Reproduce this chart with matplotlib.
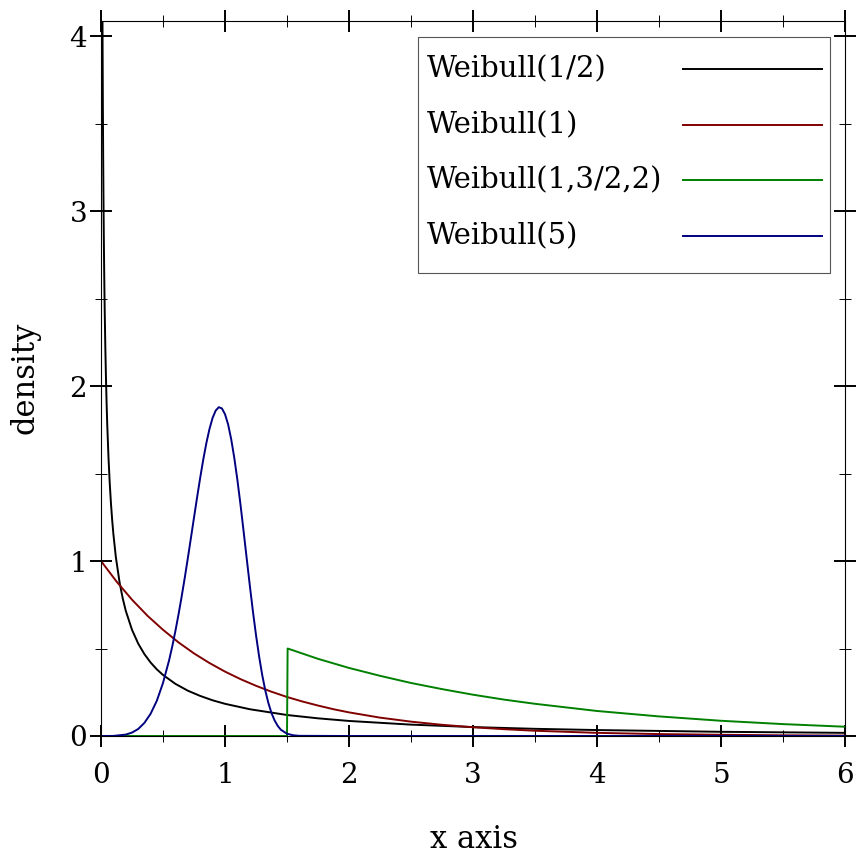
import matplotlib.pyplot as plt
from matplotlib.ticker import MultipleLocator
from matplotlib.patches import Rectangle

# Values
half_x = [0.012, 0.013, 0.015, 0.0175, 0.02, 0.0225, 0.025, 0.0275, 0.03, 0.035, 0.04, 0.045, 0.05,
          0.06, 0.07, 0.08, 0.09, 0.1, 0.12, 0.15, 0.175, 0.2, 0.25, 0.3, 0.35, 0.4, 0.45, 0.5, 0.6,
          0.7, 0.8, 0.9, 1.0, 1.2, 1.5, 1.75, 2.0, 2.5, 3.0, 3.5, 4.0, 5.0, 6.0]
half_y = [4.093, 3.912, 3.612, 3.311, 3.069, 2.869, 2.700, 2.554, 2.428, 2.217, 2.047, 1.907, 1.788,
          1.598, 1.450, 1.332, 1.235, 1.153, 1.021, 0.877, 0.787, 0.715, 0.607, 0.528, 0.468, 0.420,
          0.381, 0.349, 0.298, 0.259, 0.229, 0.204, 0.184, 0.153, 0.120, 0.101, 0.086, 0.065, 0.051,
          0.041, 0.034, 0.024, 0.018]

one_x = [0, 0.125, 0.25, 0.375, 0.5, 0.625, 0.75, 0.875, 1.0, 1.125, 1.25, 1.375, 1.5, 1.625, 1.75,
         1.875, 2.0, 2.25, 2.5, 2.75, 3.0, 3.25, 3.5, 3.75, 4.0, 4.5, 5.0, 5.5, 6.0]
one_y = [1.0, 0.883, 0.779, 0.687, 0.607, 0.535, 0.472, 0.417, 0.368, 0.325, 0.287, 0.253, 0.223,
         0.197, 0.174, 0.153, 0.135, 0.105, 0.082, 0.064, 0.050, 0.039, 0.030, 0.024, 0.018, 0.011,
         0.007, 0.004, 0.0025]

shift_x = [0, 1.5, 1.505, 1.75, 2.0, 2.25, 2.5, 2.75, 3.0, 3.25, 3.5, 4.0, 4.5, 5.0, 5.5, 6.0]
shift_y = [0, 0, 0.5, 0.441, 0.389, 0.344, 0.303, 0.268, 0.236, 0.208, 0.184, 0.143, 0.112, 0.087,
           0.068, 0.053]

five_x = [0, 0.1, 0.2, 0.25, 0.3, 0.35, 0.4, 0.45, 0.5, 0.55, 0.575, 0.6, 0.625, 0.65, 0.675, 0.7,
          0.725, 0.75, 0.775, 0.8, 0.825, 0.85, 0.875, 0.9, 0.925, 0.95, 0.975, 1.0, 1.025, 1.05,
          1.075, 1.1, 1.125, 1.15, 1.175, 1.2, 1.225, 1.25, 1.275, 1.3, 1.325, 1.35, 1.375, 1.4,
          1.425, 1.45, 1.5, 1.55, 1.6, 2.0, 6.0]
five_y = [0, 0.0005, 0.008, 0.0195, 0.040, 0.075, 0.127, 0.201, 0.303, 0.435, 0.513, 0.600, 0.694,
          0.795, 0.902, 1.015, 1.131, 1.248, 1.364, 1.476, 1.581, 1.675, 1.755, 1.818, 1.860, 1.879,
          1.872, 1.839, 1.781, 1.696, 1.589, 1.463, 1.322, 1.170, 1.015, 0.861, 0.713, 0.577, 0.455,
          0.349, 0.260, 0.188, 0.131, 0.089, 0.058, 0.036, 0.013, 0.004, 0.001, 0, 0]

labels = ['Weibull(1/2)', 'Weibull(1)', 'Weibull(1,3/2,2)', 'Weibull(5)']
colors = ['#000000', '#800000', '#008000', '#000080']

plt.rcParams['font.family'] = ['DejaVu Serif']
W, H = 856, 858
fig = plt.figure(figsize=(W / 100, H / 100), dpi=100)
ax = fig.add_axes([101 / W, 1 - 736 / H, 744 / W, 715 / H])

series = [(half_x, half_y), (one_x, one_y), (shift_x, shift_y), (five_x, five_y)]
for (xs, ys), c in zip(series, colors):
    ax.plot(xs, ys, color=c, lw=1.4, solid_joinstyle='round')

ax.set_xlim(0, 6)
ax.set_ylim(0, 4.086)
ax.xaxis.set_major_locator(MultipleLocator(1))
ax.xaxis.set_minor_locator(MultipleLocator(0.5))
ax.yaxis.set_major_locator(MultipleLocator(1))
ax.yaxis.set_minor_locator(MultipleLocator(0.5))
ax.tick_params(which='both', direction='inout', top=True, right=True, color='black')
ax.tick_params(which='major', length=16, width=1.4, labelsize=20)
ax.tick_params(which='minor', length=9, width=0.7)
ax.tick_params(axis='x', which='major', pad=11)
ax.tick_params(axis='y', which='major', pad=2)
for s in ax.spines.values():
    s.set_linewidth(0.8)

# legend box, text left and line sample right like the original
tr = ax.transAxes
def px(x, y):
    return ((x - 101) / 744, (736 - y) / 715)
x0, y0 = px(418, 273)
x1, y1 = px(830, 37)
ax.add_patch(Rectangle((x0, y0), x1 - x0, y1 - y0, transform=tr, facecolor='white',
                       edgecolor='#555555', lw=0.8, zorder=5))
rows = [69, 125, 180, 236]
for lab, c, ry in zip(labels, colors, rows):
    tx, ty = px(427, ry)
    ax.text(tx, ty, lab, transform=tr, fontsize=21, va='center', ha='left', zorder=6)
    lx0, ly = px(683, ry)
    lx1, _ = px(822, ry)
    ax.plot([lx0, lx1], [ly, ly], transform=tr, color=c, lw=1.4, zorder=6, clip_on=False)

fig.text(474 / W, 1 - 840 / H, 'x axis', fontsize=22, ha='center', va='center')
fig.text(25 / W, 1 - 378 / H, 'density', fontsize=22, ha='center', va='center', rotation=90)

fig.savefig('out.png', dpi=100)
